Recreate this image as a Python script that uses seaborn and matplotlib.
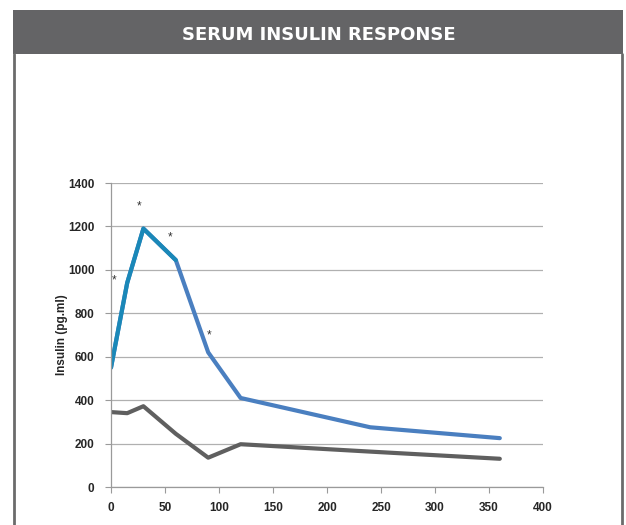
import numpy as np
import pandas as pd
import matplotlib
matplotlib.use("Agg")
import matplotlib.pyplot as plt
import seaborn as sns
from matplotlib.patches import Rectangle

# data
time_min = [0, 15, 30, 60, 90, 120, 240, 360]
treated = [550, 940, 1190, 1045, 620, 410, 275, 225]
control = [345, 340, 372, 245, 135, 197, 163, 130]
star_t = [3, 26, 55, 91]
star_y = [950, 1290, 1150, 700]

title = "SERUM INSULIN RESPONSE"
ylabel = "Insulin (pg.ml)"

df = pd.DataFrame({"time": time_min, "treated": treated, "control": control})

sns.set_style("white")
plt.rcParams['font.family'] = ['Liberation Sans', 'DejaVu Sans']

fig = plt.figure(figsize=(6.26, 5.25), dpi=100)

# frame + header band
W, H = 626, 525
fig.patches.append(Rectangle((13 / W, 1 - 54 / H), (623 - 13) / W, 44 / H,
                             transform=fig.transFigure, facecolor="#646466",
                             edgecolor="none", zorder=0))
fig.lines.append(plt.Line2D([14 / W, 14 / W], [0, 1 - 54 / H], transform=fig.transFigure,
                            color="#6b6b6b", lw=2))
fig.lines.append(plt.Line2D([622 / W, 622 / W], [0, 1 - 54 / H], transform=fig.transFigure,
                            color="#6b6b6b", lw=2))
fig.text(319 / W, 1 - 35 / H, title, color="white", fontsize=13, fontweight="bold",
         ha="center", va="center", family=["DejaVu Sans"])

ax = fig.add_axes([111 / W, 38 / H, (543 - 111) / W, (487 - 183) / H])

sns.lineplot(data=df, x="time", y="control", ax=ax, color="#5f5f5f", lw=3)
sns.lineplot(data=df, x="time", y="treated", ax=ax, color="#4a7fc0", lw=3)
sns.lineplot(data=df[df.time <= 60], x="time", y="treated", ax=ax, color="#1a88b8", lw=3)

for t, v in zip(star_t, star_y):
    ax.text(t, v, "*", ha="center", va="center", fontsize=8.5, color="#333333")

ax.set_xlim(0, 400)
ax.set_ylim(0, 1400)
ax.set_xticks(range(0, 401, 50))
ax.set_yticks(range(0, 1401, 200))
ax.yaxis.grid(True, color="#b0b0b0", lw=0.9)
ax.xaxis.grid(False)
for s in ["top", "right"]:
    ax.spines[s].set_visible(False)
for s in ["left", "bottom"]:
    ax.spines[s].set_color("#9a9a9a")
    ax.spines[s].set_linewidth(0.9)
ax.tick_params(axis="both", length=4, color="#9a9a9a", labelsize=8.5,
               left=True, bottom=True)
ax.tick_params(axis="x", pad=7)
ax.tick_params(axis="y", pad=8)
for lab in ax.get_xticklabels() + ax.get_yticklabels():
    lab.set_fontweight("bold")
ax.set_xlabel("")
ax.set_ylabel(ylabel, fontsize=8.5, fontweight="bold", labelpad=0)

fig.savefig("out.png", dpi=100)
